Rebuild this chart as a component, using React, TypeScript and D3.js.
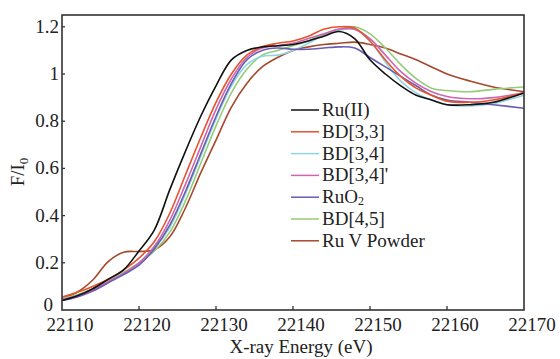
import React from "react";
import * as d3 from "d3";

const energies = [22110, 22112, 22114, 22116, 22118, 22120, 22122, 22124, 22126, 22128, 22130, 22132, 22134, 22136, 22138, 22140, 22142, 22144, 22146, 22148, 22150, 22152, 22154, 22156, 22158, 22160, 22163, 22166, 22170];

const ruII = [0.04, 0.06, 0.09, 0.13, 0.17, 0.25, 0.34, 0.51, 0.67, 0.82, 0.95, 1.06, 1.1, 1.115, 1.12, 1.125, 1.14, 1.16, 1.18, 1.15, 1.06, 1.0, 0.95, 0.91, 0.89, 0.87, 0.87, 0.88, 0.92];
const bd33 = [0.055, 0.075, 0.1, 0.13, 0.17, 0.22, 0.29, 0.41, 0.57, 0.73, 0.88, 1.0, 1.08, 1.115, 1.13, 1.14, 1.16, 1.19, 1.2, 1.195, 1.14, 1.06, 0.99, 0.94, 0.91, 0.885, 0.88, 0.89, 0.92];
const bd34 = [0.045, 0.06, 0.085, 0.12, 0.155, 0.195, 0.26, 0.35, 0.49, 0.65, 0.81, 0.95, 1.04, 1.075, 1.08, 1.1, 1.13, 1.165, 1.185, 1.19, 1.14, 1.05, 0.97, 0.92, 0.89, 0.87, 0.865, 0.875, 0.91];
const bd34p = [0.045, 0.06, 0.085, 0.12, 0.155, 0.2, 0.27, 0.38, 0.53, 0.69, 0.85, 0.98, 1.07, 1.11, 1.12, 1.13, 1.15, 1.17, 1.19, 1.19, 1.15, 1.08, 1.01, 0.96, 0.925, 0.905, 0.895, 0.9, 0.92];
const ruO2 = [0.04, 0.055, 0.08, 0.115, 0.15, 0.19, 0.26, 0.36, 0.5, 0.66, 0.82, 0.96, 1.06, 1.1, 1.11, 1.105, 1.105, 1.11, 1.115, 1.11, 1.07, 1.03, 0.99, 0.95, 0.91, 0.89, 0.88, 0.87, 0.855];
const bd45 = [0.05, 0.065, 0.09, 0.125, 0.16, 0.2, 0.25, 0.33, 0.46, 0.62, 0.78, 0.92, 1.02, 1.08, 1.1, 1.12, 1.14, 1.17, 1.19, 1.2, 1.17, 1.11, 1.04, 0.98, 0.94, 0.93, 0.925, 0.935, 0.945];
const ruVPowder = [0.05, 0.076, 0.127, 0.205, 0.245, 0.248, 0.255, 0.31, 0.43, 0.58, 0.72, 0.86, 0.96, 1.03, 1.07, 1.1, 1.115, 1.125, 1.13, 1.135, 1.125, 1.11, 1.085, 1.06, 1.03, 1.0, 0.97, 0.945, 0.925];

const seriesNames = ["Ru(II)", "BD[3,3]", "BD[3,4]", "BD[3,4]'", "RuO2", "BD[4,5]", "Ru V Powder"];
const seriesValues = [ruII, bd33, bd34, bd34p, ruO2, bd45, ruVPowder];
const seriesColors = ["#111111", "#e8532c", "#8fd4e4", "#cc66b0", "#6a5cb0", "#93cc78", "#a5482c"];
const drawOrder = [6, 5, 2, 3, 4, 1, 0];

const xTicks = [22110, 22120, 22130, 22140, 22150, 22160, 22170];
const yTicks = [0, 0.2, 0.4, 0.6, 0.8, 1, 1.2];

const W = 560, H = 359;
const L = 62, R = 524, T = 15, B = 310;
const FONT = "Liberation Serif";

export default function App() {
  const x = d3.scaleLinear().domain([22110, 22170]).range([L, R]);
  const y = d3.scaleLinear().domain([0, 1.25]).range([B, T]);
  const line = d3
    .line<number>()
    .x((_, i) => x(energies[i]))
    .y((d) => y(d))
    .curve(d3.curveCatmullRom.alpha(0.5));
  const legendX = 291;
  const legendY0 = 110;
  const legendDy = 21.8;
  return (
    <svg width={W} height={H} style={{ position: "absolute", left: 0, top: 0, background: "#fff" }}>
      <defs>
        <clipPath id="plot">
          <rect x={L} y={T} width={R - L} height={B - T} />
        </clipPath>
      </defs>
      <g clipPath="url(#plot)">
        {drawOrder.map((k) => (
          <path key={k} d={line(seriesValues[k]) || ""} fill="none" stroke={seriesColors[k]} strokeWidth={1.6} />
        ))}
      </g>
      <rect x={L} y={T} width={R - L} height={B - T} fill="none" stroke="#333" strokeWidth={1.6} />
      {xTicks.slice(1, -1).map((t) => (
        <line key={t} x1={x(t)} x2={x(t)} y1={B} y2={B - 4} stroke="#333" strokeWidth={1.3} />
      ))}
      {yTicks.slice(1).map((t) => (
        <line key={t} x1={L} x2={L + 3} y1={y(t)} y2={y(t)} stroke="#333" strokeWidth={1.3} />
      ))}
      <g fontFamily={FONT} fontSize={19} fill="#222">
        {xTicks.map((t) => (
          <text key={t} x={x(t) + 8} y={331} textAnchor="middle">
            {t}
          </text>
        ))}
        {yTicks.map((t) => (
          <text key={t} x={t === 0 ? 53 : 59} y={t === 0 ? 311 : y(t) + 6} textAnchor="end">
            {d3.format("~g")(t)}
          </text>
        ))}
        <text x={301} y={353} textAnchor="middle">
          X-ray Energy (eV)
        </text>
        <text transform="translate(24,172) rotate(-90)" textAnchor="middle">
          F/I<tspan fontSize={13} dy={4}>0</tspan>
        </text>
        {seriesNames.map((n, i) => {
          const cy = legendY0 + i * legendDy;
          return (
            <g key={n}>
              <line x1={legendX} x2={legendX + 28} y1={cy} y2={cy} stroke={seriesColors[i]} strokeWidth={1.5} />
              <text x={legendX + 31} y={cy + 6}>
                {n === "RuO2" ? (
                  <>
                    RuO<tspan fontSize={12} dy={2}>2</tspan>
                  </>
                ) : (
                  n
                )}
              </text>
            </g>
          );
        })}
      </g>
    </svg>
  );
}
